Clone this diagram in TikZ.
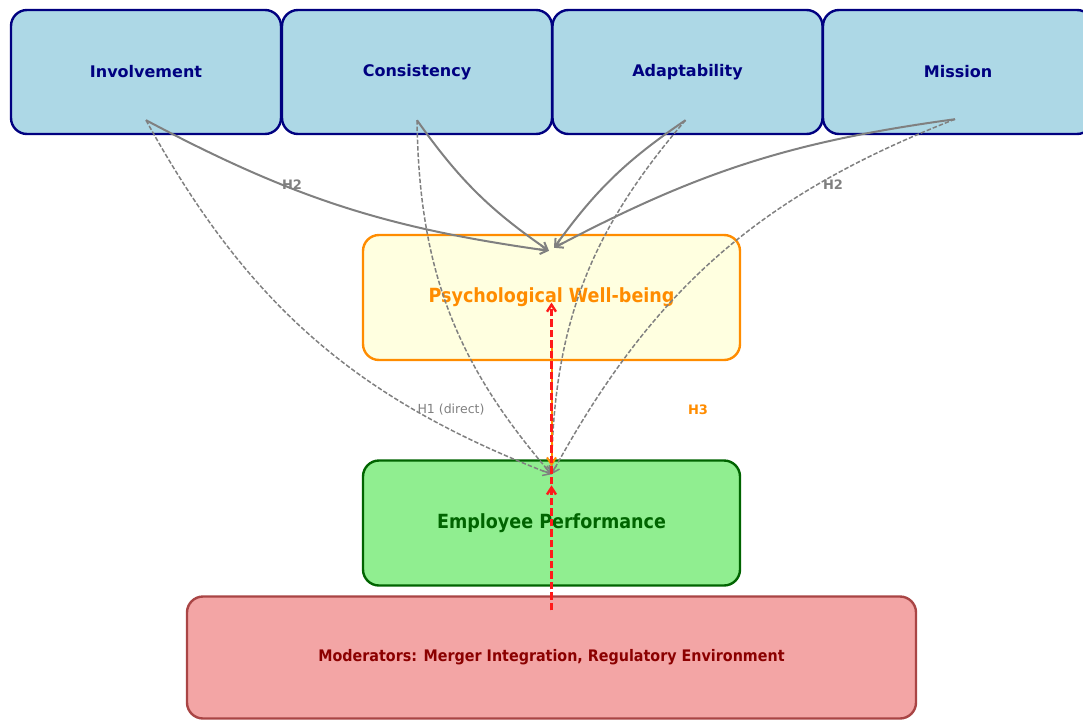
\documentclass[tikz,border=0pt]{standalone}
\usepackage{fontspec}
\setmainfont{DejaVu Sans}
\newfontfamily\condsans[FakeStretch=0.9]{DejaVu Sans}
\usetikzlibrary{arrows.meta}
\definecolor{dimfill}{HTML}{ADD8E6}
\definecolor{dimline}{HTML}{000080}
\definecolor{pwbfill}{HTML}{FFFFE0}
\definecolor{pwbline}{HTML}{FF8C00}
\definecolor{epfill}{HTML}{90EE90}
\definecolor{epline}{HTML}{006400}
\definecolor{modfill}{HTML}{F3A5A5}
\definecolor{modline}{HTML}{A94545}
\definecolor{modtext}{HTML}{8B0000}
\definecolor{linkgray}{HTML}{808080}
\definecolor{modred}{HTML}{FF1A1A}
\tikzset{
  box/.style={draw, line width=2.4pt, rounded corners=16pt, inner sep=0pt},
  dim/.style={box, draw=dimline, fill=dimfill, text=dimline,
    minimum width=270pt, minimum height=124pt,
    font=\bfseries\fontsize{16}{19}\selectfont},
  outcome/.style={box, minimum width=377pt, minimum height=125pt,
    font=\condsans\bfseries\fontsize{19.5}{23}\selectfont},
  barb/.style={-{Straight Barb[length=7pt,width=9pt]}},
  h2link/.style={barb, draw=linkgray, line width=2pt},
  h1link/.style={barb, draw=linkgray, line width=1.5pt, dash pattern=on 4.5pt off 2pt},
  h3link/.style={barb, draw=pwbline, line width=2pt},
  modlink/.style={barb, draw=modred, line width=2.4pt, dash pattern=on 7.5pt off 3pt},
  hlabel/.style={font=\bfseries\fontsize{13}{15}\selectfont}
}
\begin{document}
\begin{tikzpicture}[x=1pt,y=-1pt]
  \useasboundingbox (0,0) rectangle (1083,720);
  % culture dimensions
  \node[dim] (inv) at (146,72) {Involvement};
  \node[dim] (con) at (417,72) {Consistency};
  \node[dim] (ada) at (687.5,72) {Adaptability};
  \node[dim] (mis) at (958,72) {Mission};
  % mediator, outcome, moderators
  \node[outcome, draw=pwbline, fill=pwbfill, text=pwbline] (pwb) at (551.5,297.5) {Psychological Well-being};
  \node[outcome, draw=epline, fill=epfill, text=epline] (ep) at (551.5,523) {Employee Performance};
  \node[box, draw=modline, fill=modfill, text=modtext, minimum width=729pt, minimum height=122pt,
    font=\condsans\bfseries\fontsize{15.9}{19}\selectfont] (mod) at (551.5,657.5)
    {Moderators: Merger Integration, Regulatory Environment};
  % arrow ends
  \coordinate (inv-out) at ([yshift=15pt]inv.south);
  \coordinate (con-out) at ([yshift=15pt]con.south);
  \coordinate (ada-out) at ([xshift=-2pt,yshift=15pt]ada.south);
  \coordinate (mis-out) at ([xshift=-3pt,yshift=16pt]mis.south);
  \coordinate (pwb-inl) at ([xshift=-2.5pt,yshift=-17pt]pwb.north);
  \coordinate (pwb-inr) at ([xshift=2.5pt,yshift=-14pt]pwb.north);
  \coordinate (pwb-out) at ([yshift=15pt]pwb.south);
  \coordinate (pwb-mod) at ([yshift=-5pt]pwb.center);
  \coordinate (ep-in) at ([yshift=-15pt]ep.north);
  \coordinate (ep-mod) at ([yshift=-26pt]ep.north);
  \coordinate (mod-out) at ([yshift=-15pt]mod.north);
  % H2: dimensions -> well-being
  \draw[h2link] (inv-out) to[bend right=10] (pwb-inl);
  \draw[h2link] (con-out) to[bend right=10] (pwb-inl);
  \draw[h2link] (ada-out) to[bend right=10] (pwb-inr);
  \draw[h2link] (mis-out) to[bend right=10] (pwb-inr);
  % H1: dimensions -> performance
  \draw[h1link] (inv-out) to[bend right=20] (ep-in);
  \draw[h1link] (con-out) to[bend right=20] (ep-in);
  \draw[h1link] (ada-out) to[bend right=20] (ep-in);
  \draw[h1link] (mis-out) to[bend right=20] (ep-in);
  % H3 and moderators
  \draw[h3link] (pwb-out) -- ([yshift=8pt]ep-in);
  \draw[modlink] (mod-out) -- (ep-mod);
  \draw[modlink] (mod-out) -- (pwb-mod);
  % labels
  \node[hlabel, text=linkgray] (h2a) at (292,185) {H2};
  \node[hlabel, text=linkgray] (h2b) at (833,185) {H2};
  \node[text=linkgray, font=\fontsize{12.5}{15}\selectfont] (h1) at (451,410) {H1 (direct)};
  \node[hlabel, text=pwbline] (h3) at (698,410) {H3};
\end{tikzpicture}
\end{document}
